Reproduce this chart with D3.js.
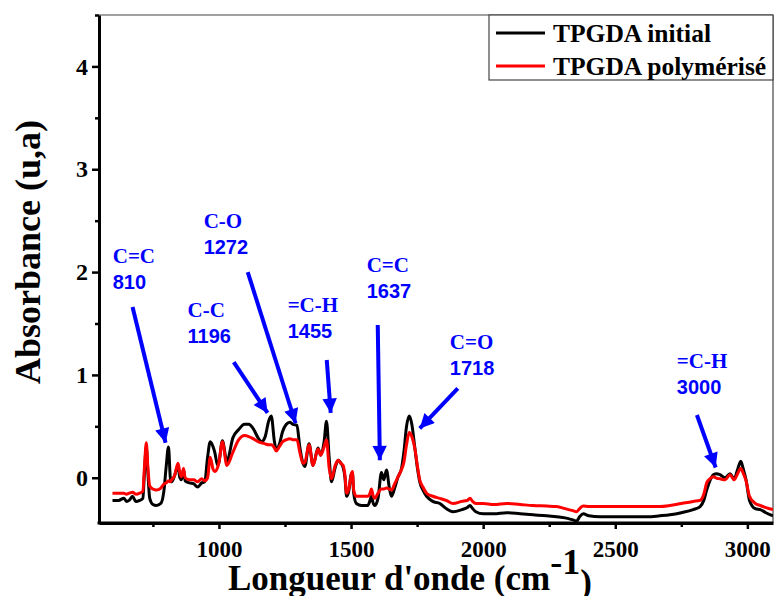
<!DOCTYPE html>
<html><head><meta charset="utf-8">
<script src="https://cdn.jsdelivr.net/npm/d3@7"></script>
<style>
html,body{margin:0;padding:0;background:#fff;}
svg{display:block;}
</style></head>
<body>
<svg id="chart" width="774" height="596"></svg>
<script>
// ---- data ----
const wavenumbers = [597,620,640,650,660,673,685,700,712,718,725,731,738,750,763,780,792,800,809,816,821,832,845,852,858,866,872,889,905,919,935,946,957,967,978,984,995,1000,1013,1030,1053,1075,1097,1113,1129,1150,1161,1175,1188,1198,1210,1217,1228,1241,1255,1268,1280,1295,1306,1318,1325,1341,1356,1375,1385,1398,1407,1417,1426,1440,1451,1462,1470,1477,1483,1492,1500,1505,1510,1520,1540,1563,1572,1577,1583,1590,1602,1615,1624,1634,1645,1653,1665,1678,1691,1700,1710,1720,1730,1741,1752,1760,1772,1786,1809,1836,1860,1886,1919,1940,1950,1960,1972,2000,2040,2089,2140,2189,2240,2278,2310,2340,2354,2365,2379,2400,2442,2500,2560,2620,2669,2707,2750,2795,2821,2835,2846,2858,2871,2884,2896,2916,2934,2950,2963,2975,2985,2995,3008,3030,3049,3070,3097];
const initialAbs = [-0.22,-0.22,-0.20,-0.23,-0.22,-0.18,-0.23,-0.22,-0.20,0.05,0.30,0.05,-0.20,-0.26,-0.27,-0.25,-0.12,0.10,0.30,0.00,-0.04,0.02,0.12,0.00,-0.02,0.08,-0.03,-0.05,-0.06,-0.09,-0.05,-0.04,0.20,0.35,0.30,0.25,0.12,0.15,0.36,0.16,0.39,0.47,0.52,0.52,0.48,0.38,0.35,0.40,0.55,0.60,0.35,0.27,0.32,0.45,0.52,0.54,0.52,0.51,0.30,0.14,0.11,0.33,0.12,0.29,0.22,0.35,0.55,0.20,-0.04,0.10,0.17,0.14,0.10,0.00,-0.18,-0.12,0.03,0.05,-0.15,-0.25,-0.27,-0.27,-0.22,-0.18,-0.24,-0.27,-0.20,0.05,-0.02,0.075,-0.10,-0.18,-0.10,0.01,0.09,0.25,0.50,0.60,0.52,0.30,0.08,-0.04,-0.12,-0.18,-0.23,-0.25,-0.30,-0.33,-0.31,-0.29,-0.27,-0.30,-0.33,-0.35,-0.35,-0.34,-0.35,-0.36,-0.37,-0.38,-0.39,-0.41,-0.42,-0.38,-0.35,-0.37,-0.38,-0.38,-0.38,-0.38,-0.37,-0.36,-0.34,-0.31,-0.28,-0.22,-0.12,-0.03,0.03,0.04,0.03,0.00,0.04,-0.01,0.08,0.16,0.08,-0.02,-0.22,-0.30,-0.31,-0.34,-0.37];
const polymerAbs = [-0.15,-0.15,-0.15,-0.16,-0.15,-0.14,-0.16,-0.15,-0.13,0.10,0.34,0.10,-0.08,-0.11,-0.12,-0.10,-0.06,-0.05,-0.03,-0.04,-0.02,0.02,0.14,0.05,0.01,0.09,0.00,-0.02,-0.02,-0.04,-0.01,-0.03,0.00,0.20,0.08,0.06,0.10,0.15,0.35,0.12,0.25,0.37,0.41,0.40,0.38,0.35,0.34,0.33,0.32,0.32,0.29,0.26,0.30,0.35,0.37,0.38,0.37,0.37,0.25,0.14,0.15,0.32,0.12,0.28,0.22,0.30,0.37,0.10,-0.01,0.12,0.17,0.14,0.12,0.02,-0.15,-0.10,0.02,0.06,-0.12,-0.18,-0.18,-0.18,-0.15,-0.11,-0.17,-0.20,-0.15,-0.11,-0.11,-0.10,-0.11,-0.12,-0.06,0.01,0.08,0.15,0.32,0.44,0.40,0.29,0.10,-0.02,-0.09,-0.15,-0.18,-0.20,-0.22,-0.25,-0.23,-0.22,-0.20,-0.23,-0.25,-0.25,-0.26,-0.25,-0.26,-0.27,-0.275,-0.28,-0.30,-0.32,-0.33,-0.30,-0.275,-0.28,-0.28,-0.28,-0.28,-0.28,-0.28,-0.27,-0.25,-0.23,-0.22,-0.16,-0.05,-0.01,0.01,-0.005,-0.01,-0.02,0.03,-0.02,0.04,0.09,0.04,-0.03,-0.18,-0.25,-0.27,-0.29,-0.31];
const seriesNames = ["TPGDA initial", "TPGDA polymérisé"];
const seriesColors = ["#000000", "#ff0000"];
const xTicksMajor = [1000, 1500, 2000, 2500, 3000];
const xTicksMinor = [750, 1250, 1750, 2250, 2750];
const yTicksMajor = [0, 1, 2, 3, 4];
const yTicksMinor = [0.5, 1.5, 2.5, 3.5, 4.5];
// annotations: label text, number, label anchor (wavenumber, absorbance), arrow start & tip (wavenumber, absorbance)
const annoLabels = ["C=C", "C-C", "C-O", "=C-H", "C=C", "C=O", "=C-H"];
const annoNumbers = ["810", "1196", "1272", "1455", "1637", "1718", "3000"];
const annoTextPos = [[598,2.09],[881,1.56],[942,2.43],[1260,1.61],[1559,2.0],[1874,1.25],[2733,1.07]];
const arrowStart = [[673,1.66],[1056,1.125],[1109,2.0],[1408,1.145],[1601,1.485],[1904,0.87],[2809,0.61]];
const arrowTip = [[798,0.34],[1184,0.63],[1290,0.53],[1423,0.63],[1609,0.17],[1760,0.48],[2880,0.10]];

// ---- layout ----
const svg = d3.select("#chart");
const L = 99, R = 773, T = 15, B = 523;
const x = d3.scaleLinear().domain([546, 3097]).range([L, R]);
const y = d3.scaleLinear().domain([-0.44, 4.5]).range([B, T]);
const serif = "'Liberation Serif','Times New Roman',serif";
const sans = "'Liberation Sans',Arial,sans-serif";

svg.append("defs").append("clipPath").attr("id","plotclip")
  .append("rect").attr("x", L).attr("y", T).attr("width", R - L).attr("height", B - T);
svg.select("defs").append("marker").attr("id","arrowhead")
  .attr("viewBox","0 0 10 10").attr("refX",10).attr("refY",5)
  .attr("markerWidth",4.4).attr("markerHeight",3.6).attr("orient","auto").attr("markerUnits","strokeWidth")
  .append("path").attr("d","M0,0 L10,5 L0,10 Z").attr("fill","#0000ff");

// frame (top & right thin)
svg.append("line").attr("x1", L).attr("x2", R).attr("y1", T).attr("y2", T).attr("stroke","#444").attr("stroke-width",1.2);
svg.append("line").attr("x1", R).attr("x2", R).attr("y1", T).attr("y2", B).attr("stroke","#444").attr("stroke-width",1.2);

// curves
const rowsA = wavenumbers.map((w,i)=>[w, initialAbs[i]]);
const rowsB = wavenumbers.map((w,i)=>[w, polymerAbs[i]]);
const line = d3.line().x(d=>x(d[0])).y(d=>y(d[1])).curve(d3.curveMonotoneX);
const g = svg.append("g").attr("clip-path","url(#plotclip)");
[rowsA, rowsB].forEach((rows,i)=>{
  g.append("path").datum(rows).attr("d", line).attr("fill","none")
    .attr("stroke", seriesColors[i]).attr("stroke-width", 3).attr("stroke-linejoin","round");
});

// axes
function styleAxis(sel, fs){
  sel.select(".domain").attr("stroke","#000").attr("stroke-width",3);
  sel.selectAll(".tick line").attr("stroke","#000").attr("stroke-width",2.5);
  sel.selectAll(".tick text").attr("font-family", serif).attr("font-weight","bold").attr("font-size",fs).attr("fill","#000");
}
const xAxis = svg.append("g").attr("transform",`translate(0,${B})`)
  .call(d3.axisBottom(x).tickValues(xTicksMajor).tickSize(6).tickPadding(12).tickFormat(d3.format("d")).tickSizeOuter(0));
styleAxis(xAxis, "23px");
const xAxisMinor = svg.append("g").attr("transform",`translate(0,${B})`)
  .call(d3.axisBottom(x).tickValues(xTicksMinor).tickSize(4).tickFormat("").tickSizeOuter(0));
styleAxis(xAxisMinor, "23px"); xAxisMinor.select(".domain").remove();
const yAxis = svg.append("g").attr("transform",`translate(${L},0)`)
  .call(d3.axisLeft(y).tickValues(yTicksMajor).tickSize(7).tickPadding(4).tickFormat(d3.format("d")).tickSizeOuter(0));
styleAxis(yAxis, "24px");
const yAxisMinor = svg.append("g").attr("transform",`translate(${L},0)`)
  .call(d3.axisLeft(y).tickValues(yTicksMinor).tickSize(4).tickFormat("").tickSizeOuter(0));
styleAxis(yAxisMinor, "24px"); yAxisMinor.select(".domain").remove();
// extend bottom axis domain to corner
svg.append("line").attr("x1", L-1.5).attr("x2", R).attr("y1", B).attr("y2", B).attr("stroke","#000").attr("stroke-width",3);

// axis titles
svg.append("text").attr("transform",`translate(40,252) rotate(-90)`).attr("text-anchor","middle")
  .attr("font-family", serif).attr("font-weight","bold").attr("font-size","36px").text("Absorbance (u,a)");
const xt = svg.append("text").attr("x",228).attr("y",590).attr("font-family", serif).attr("font-weight","bold").attr("font-size","35px");
xt.append("tspan").text("Longueur d'onde (cm");
xt.append("tspan").attr("dy",-16).attr("font-size","36px").text("-1");
xt.append("tspan").attr("dy",20).text(")");

// annotations
const ag = svg.append("g");
annoLabels.forEach((lab,i)=>{
  const [tx,ty] = annoTextPos[i];
  ag.append("text").attr("x", x(tx)).attr("y", y(ty)).attr("font-family", serif).attr("font-weight","bold")
    .attr("font-size","21px").attr("fill","#0000ff").text(lab);
  ag.append("text").attr("x", x(tx)).attr("y", y(ty)+26).attr("font-family", sans).attr("font-weight","bold")
    .attr("font-size","20px").attr("fill","#0000ff").text(annoNumbers[i]);
  ag.append("line").attr("x1", x(arrowStart[i][0])).attr("y1", y(arrowStart[i][1]))
    .attr("x2", x(arrowTip[i][0])).attr("y2", y(arrowTip[i][1]))
    .attr("stroke","#0000ff").attr("stroke-width",4).attr("marker-end","url(#arrowhead)");
});

// legend
const lg = svg.append("g");
lg.append("rect").attr("x",489).attr("y",T).attr("width",R-489).attr("height",65)
  .attr("fill","#fff").attr("stroke","#444").attr("stroke-width",1.2);
seriesNames.forEach((n,i)=>{
  const yy = 33 + i*33;
  lg.append("line").attr("x1",496).attr("x2",545).attr("y1",yy).attr("y2",yy).attr("stroke",seriesColors[i]).attr("stroke-width",3);
  lg.append("text").attr("x",553).attr("y",yy+9).attr("font-family",serif).attr("font-weight","bold").attr("font-size","25.5px").text(n);
});
</script>
</body></html>
